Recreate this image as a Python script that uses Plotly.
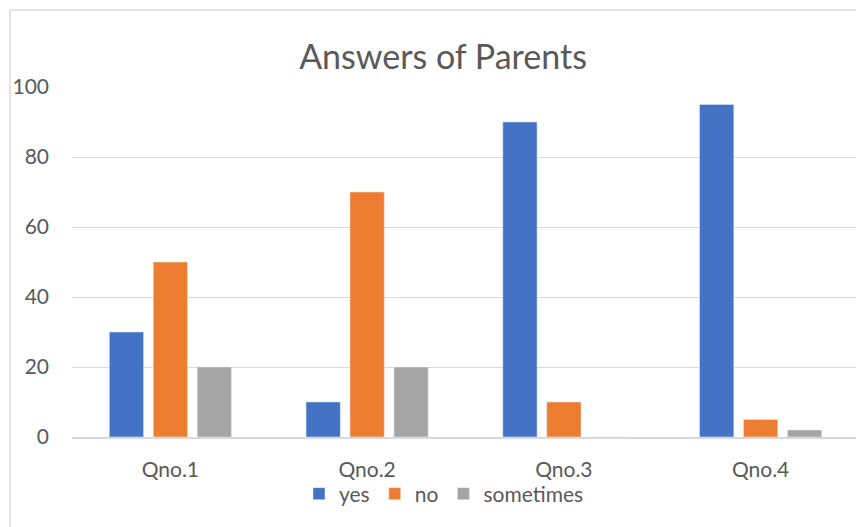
import plotly.graph_objects as go

categories = ["Qno.1", "Qno.2", "Qno.3", "Qno.4"]
yes_vals = [30, 10, 90, 95]
no_vals = [50, 70, 10, 5]
sometimes_vals = [20, 20, 0, 2]
y_ticks = [0, 20, 40, 60, 80, 100]

FONT = "Lato"
TXT = "#595959"
OFF = 8  # page body margin

fig = go.Figure()
fig.add_trace(go.Bar(name="yes", x=categories, y=yes_vals, marker_color="#4472C4"))
fig.add_trace(go.Bar(name="no", x=categories, y=no_vals, marker_color="#ED7D31"))
fig.add_trace(go.Bar(name="sometimes", x=categories, y=sometimes_vals, marker_color="#A5A5A5"))

W, H = 864 - OFF, 527 - OFF
# target screen coords of the plot area
PX0, PX1, PY0, PY1 = 72, 859, 87, 437
L, R, T, B = PX0 - OFF, (W + OFF) - PX1, PY0 - OFF, (H + OFF) - PY1
pw = PX1 - PX0
ph = PY1 - PY0

def px(x):
    return (x - PX0) / pw

def py(y):
    return (PY1 - y) / ph

fig.update_layout(
    width=W, height=H,
    margin=dict(l=L, r=R, t=T, b=B, pad=0),
    paper_bgcolor="white", plot_bgcolor="white",
    barmode="group", bargap=0.33, bargroupgap=0.22,
    font=dict(family=FONT, color=TXT, size=21),
    title=dict(text="Answers of Parents", x=px(443), xref="paper", xanchor="center",
               y=1 - (57 - OFF) / H, yref="container", yanchor="middle",
               font=dict(family=FONT, size=34, color=TXT)),
    showlegend=True,
    legend=dict(orientation="h", x=px(444), xanchor="center",
                y=py(494), yanchor="middle",
                font=dict(family=FONT, size=21, color=TXT),
                itemwidth=30, traceorder="normal", bgcolor="rgba(0,0,0,0)"),
    xaxis=dict(showgrid=False, showline=True, linecolor="#d9d9d9", linewidth=1.5,
               ticks="", ticklabelstandoff=13, tickfont=dict(size=21, color=TXT)),
    yaxis=dict(range=[0, 100], tickvals=y_ticks, showgrid=True, gridcolor="#d9d9d9",
               gridwidth=1, zeroline=False, showline=False, ticks="",
               ticklabelstandoff=22, tickfont=dict(size=21, color=TXT)),
)

# chart border
fig.add_shape(type="rect", xref="paper", yref="paper",
              x0=px(10), x1=px(900), y0=py(560), y1=py(10),
              line=dict(color="#d9d9d9", width=1.5), fillcolor="rgba(0,0,0,0)", layer="below")

fig.write_html("out.html")
